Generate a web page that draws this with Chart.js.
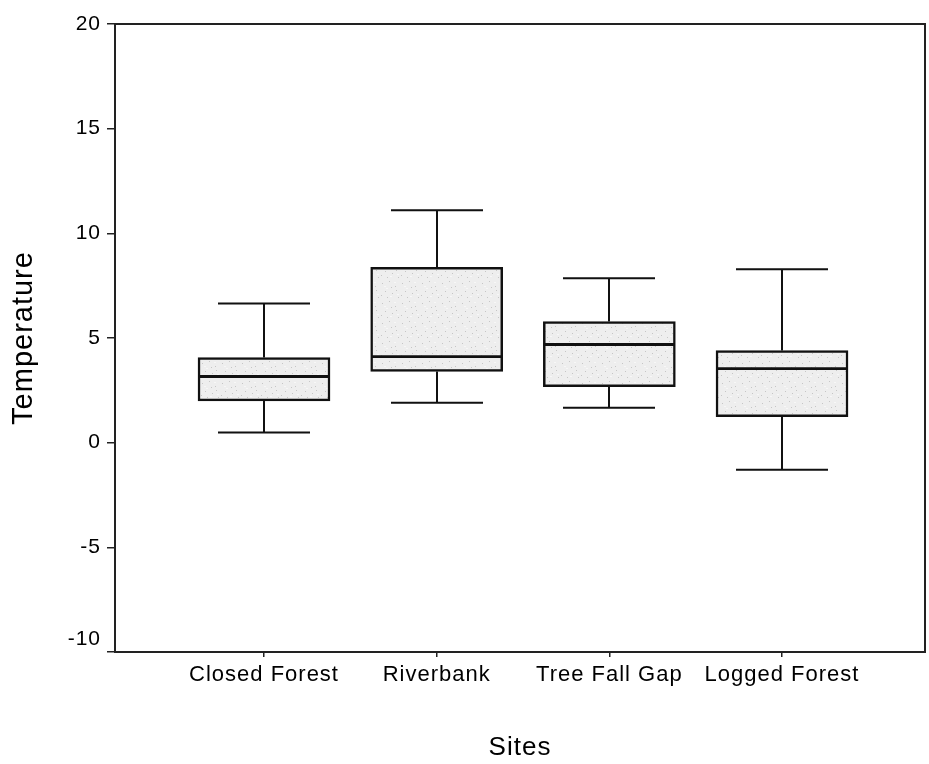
<!DOCTYPE html>
<html>
<head>
<meta charset="utf-8">
<script src="https://cdn.jsdelivr.net/npm/chart.js@4.4.1/dist/chart.umd.min.js"></script>
<style>
  html, body { margin: 0; padding: 0; background: #ffffff; }
  #wrap { width: 929px; height: 764px; }
</style>
</head>
<body>
<div id="wrap"><canvas id="c" width="929" height="764"></canvas></div>
<script>
// Temperature by site: box-and-whisker summary
const sites = ['Closed Forest', 'Riverbank', 'Tree Fall Gap', 'Logged Forest'];
const whiskerLow  = [0.48, 1.91, 1.67, -1.29];
const quartile1   = [2.0, 3.4, 2.68, 1.24];
const medians     = [3.16, 4.11, 4.69, 3.54];
const quartile3   = [4.07, 8.37, 5.79, 4.40];
const whiskerHigh = [6.65, 11.1, 7.85, 8.28];
const yTicks = [-10, -5, 0, 5, 10, 15, 20];

const FONT = '"Liberation Sans", Arial, sans-serif';
const INK = '#000000';

// light stippled fill for the boxes
function stipple() {
  const p = document.createElement('canvas');
  p.width = 20; p.height = 20;
  const g = p.getContext('2d');
  g.fillStyle = '#eeeeee';
  g.fillRect(0, 0, 20, 20);
  const dots = [[2,3],[9,1],[15,6],[5,11],[12,13],[18,17],[7,17],[16,10],[1,15],[11,7]];
  g.fillStyle = '#c6c6c6';
  dots.forEach(([x, y]) => g.fillRect(x, y, 1, 1));
  g.fillStyle = '#f7f7f7';
  [[4,6],[14,2],[10,16],[17,14],[6,8]].forEach(([x, y]) => g.fillRect(x, y, 2, 1));
  return g.createPattern(p, 'repeat');
}

const ctx = document.getElementById('c').getContext('2d');
const boxData = sites.map((s, i) => ({ x: i + 1, y: [quartile1[i], quartile3[i]] }));

// slightly wider lettering for all text
const spacing = {
  id: 'spacing',
  beforeLayout(chart) { chart.ctx.letterSpacing = '1px'; },
  beforeDraw(chart) { chart.ctx.letterSpacing = '1px'; }
};

// whiskers, caps, medians and the surrounding frame
const boxExtras = {
  id: 'boxExtras',
  afterDatasetsDraw(chart) {
    const { ctx, scales: { x, y }, chartArea } = chart;
    ctx.save();
    ctx.strokeStyle = '#111111';
    ctx.lineWidth = 2;
    const capHalf = 46;
    const boxHalf = 66;
    sites.forEach((s, i) => {
      const cx = Math.round(x.getPixelForValue(i + 1));
      const yLo = y.getPixelForValue(whiskerLow[i]);
      const yQ1 = y.getPixelForValue(quartile1[i]);
      const yQ3 = y.getPixelForValue(quartile3[i]);
      const yHi = y.getPixelForValue(whiskerHigh[i]);
      const yMed = y.getPixelForValue(medians[i]);
      ctx.beginPath();
      ctx.moveTo(cx, yQ3); ctx.lineTo(cx, yHi);
      ctx.moveTo(cx - capHalf, yHi); ctx.lineTo(cx + capHalf, yHi);
      ctx.moveTo(cx, yQ1); ctx.lineTo(cx, yLo);
      ctx.moveTo(cx - capHalf, yLo); ctx.lineTo(cx + capHalf, yLo);
      ctx.stroke();
      ctx.lineWidth = 2.8;
      ctx.beginPath();
      ctx.moveTo(cx - boxHalf, yMed); ctx.lineTo(cx + boxHalf, yMed);
      ctx.stroke();
      ctx.lineWidth = 2;
    });
    ctx.strokeStyle = '#222222';
    ctx.strokeRect(chartArea.left, chartArea.top, chartArea.right - chartArea.left, chartArea.bottom - chartArea.top);
    ctx.restore();
  }
};

new Chart(ctx, {
  type: 'bar',
  data: {
    datasets: [{
      label: 'Temperature',
      data: boxData,
      backgroundColor: stipple(),
      borderColor: '#111111',
      borderWidth: 2.5,
      borderSkipped: false,
      barThickness: 132
    }]
  },
  options: {
    responsive: false,
    animation: false,
    layout: { padding: { top: 24, right: 4, left: 0, bottom: 0 } },
    plugins: { legend: { display: false }, tooltip: { enabled: false } },
    scales: {
      x: {
        type: 'linear',
        offset: false,
        min: 0.137,
        max: 4.828,
        afterBuildTicks(scale) { scale.ticks = sites.map((s, i) => ({ value: i + 1 })); },
        afterFit(scale) { scale.height = 112; },
        ticks: {
          autoSkip: false,
          maxRotation: 0,
          color: INK,
          font: { family: FONT, size: 22 },
          padding: 5,
          callback: (v) => sites[Math.round(v) - 1] || ''
        },
        grid: { offset: false, drawOnChartArea: false, tickLength: 5, color: '#222222', lineWidth: 1.5 },
        border: { display: true, color: '#222222', width: 2 },
        title: {
          display: true,
          text: 'Sites',
          color: INK,
          font: { family: FONT, size: 26 },
          padding: { top: 30, bottom: 1 }
        }
      },
      y: {
        min: -10,
        max: 20,
        afterBuildTicks(scale) { scale.ticks = yTicks.map(v => ({ value: v })); },
        afterFit(scale) { scale.width = 115; },
        ticks: {
          color: INK,
          font: { family: FONT, size: 21 },
          padding: 6,
          // the bottom label sits a little above its tick, clear of the axis line
          callback: (v) => (v === -10 ? [String(v), ''] : String(v))
        },
        grid: { drawOnChartArea: false, tickLength: 8, color: '#222222', lineWidth: 1.5 },
        border: { display: true, color: '#222222', width: 2 },
        title: {
          display: true,
          text: 'Temperature',
          color: INK,
          font: { family: FONT, size: 29 },
          padding: { top: 7, bottom: 8 }
        }
      }
    }
  },
  plugins: [spacing, boxExtras]
});
</script>
</body>
</html>
